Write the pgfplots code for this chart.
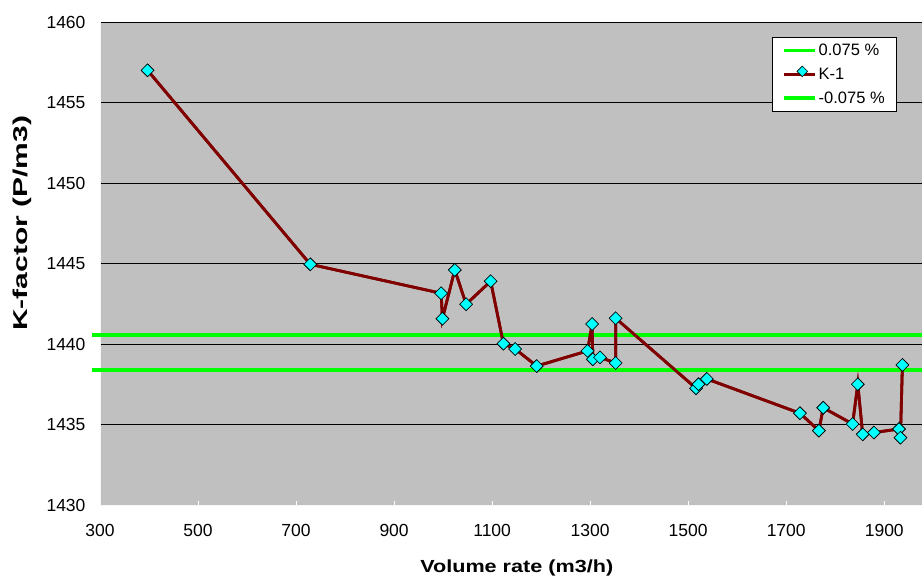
\documentclass[border=0pt]{standalone}
\usepackage{pgfplots}
\usepackage{pgfplotstable}
\pgfplotsset{compat=1.18}
\usepackage{fontspec}
\setmainfont{Liberation Sans}
\definecolor{bgray}{HTML}{C0C0C0}
\definecolor{kred}{HTML}{800000}
\definecolor{kcyan}{HTML}{00FFFF}
\definecolor{lgreen}{HTML}{00FF00}
\pgfplotstableread{
x y
397 1457.0
729 1444.95
996 1443.15
998.6 1441.57
1023.8 1444.6
1047 1442.47
1097 1443.9
1123 1440.02
1147 1439.69
1191 1438.63
1294.6 1439.57
1304 1441.24
1305.4 1439.05
1320 1439.17
1352 1438.82
1352 1441.6
1516 1437.25
1521 1437.5
1538 1437.83
1728 1435.7
1766.6 1434.62
1775.5 1436.04
1835.4 1435.03
1846 1437.5
1856 1434.39
1879 1434.5
1930 1434.72
1933 1434.18
1937 1438.7
}\kdata
\begin{document}
\begin{tikzpicture}
\begin{axis}[
  scale only axis,
  width=822pt, height=483pt,
  xmin=300, xmax=1977,
  ymin=1430, ymax=1460,
  xtick={300,500,...,1900},
  ytick={1430,1435,...,1460},
  axis background/.style={fill=bgray},
  axis x line*=bottom, axis y line*=left,
  axis line style={draw=white!85!bgray, line width=0.8pt, -},
  tick style={draw=white, line width=0.8pt},
  major tick length=4pt,
  ytick style={draw=none},
  ymajorgrids,
  major grid style={draw=black, line width=0.7pt},
  clip=false,
  /pgf/number format/assume math mode=true,
  /pgf/number format/1000 sep={},
  tick label style={font=\fontsize{17.5}{20}\selectfont},
  yticklabel style={xshift=-11pt},
  xticklabel style={yshift=-16pt},
  xlabel={\scalebox{1.235}[1]{Volume rate (m3/h)}},
  ylabel={\scalebox{1.5}[1]{K-factor (P/m3)}},
  every axis x label/.style={at={(axis description cs:0.507,-0.130)}, anchor=center, font=\bfseries\fontsize{17.5}{20}\selectfont},
  every axis y label/.style={at={(axis description cs:-0.0949,0.583)}, anchor=center, rotate=90, font=\bfseries\fontsize{20}{24}\selectfont},
  legend style={at={(axis description cs:0.9696,0.969)}, anchor=north east,
    draw=black, line width=0.6pt, fill=white,
    font=\fontsize{16.5}{19}\selectfont, row sep=7pt,
    inner xsep=10pt, inner ysep=4.5pt, nodes={inner xsep=2pt}},
  legend cell align=left,
]
\addplot[lgreen, line width=3.5pt,
  legend image code/.code={\draw[lgreen, line width=3.5pt] (0pt,0pt) -- (31pt,0pt);}]
  coordinates {(284,1440.56) (1977,1440.56)};
\addlegendentry{0.075 \%}
\addplot[kred, line width=2.8pt, mark=square*, mark size=4.5pt,
  mark options={rotate=45, fill=kcyan, draw=black, line width=0.6pt, solid},
  legend image code/.code={\draw[kred, line width=2.8pt] (0pt,0pt) -- (31pt,0pt);
    \node[draw=black, fill=kcyan, rotate=45, minimum size=7.5pt, inner sep=0pt, line width=0.6pt] at (15.5pt,0pt) {};}]
  table[x=x, y=y] {\kdata};
\addlegendentry{K-1}
\addplot[lgreen, line width=3.5pt,
  legend image code/.code={\draw[lgreen, line width=3.5pt] (0pt,0pt) -- (31pt,0pt);}]
  coordinates {(284,1438.40) (1977,1438.40)};
\addlegendentry{-0.075 \%}
% redraw series above the lower tolerance line
\addplot[kred, line width=2.8pt, mark=square*, mark size=4.5pt, forget plot,
  mark options={rotate=45, fill=kcyan, draw=black, line width=0.6pt, solid}]
  table[x=x, y=y] {\kdata};
\end{axis}
\pgfresetboundingbox
\path ([xshift=-100pt,yshift=-71pt]current axis.south west) rectangle ([xshift=1pt,yshift=22pt]current axis.north east);
\end{tikzpicture}
\end{document}
